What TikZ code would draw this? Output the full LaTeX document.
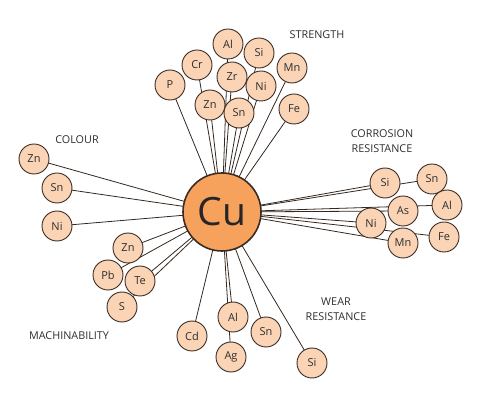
\documentclass[tikz,border=0pt]{standalone}
\usepackage{fontspec}
\setmainfont{Open Sans}
\usetikzlibrary{backgrounds}
\definecolor{cufill}{HTML}{F7A25C}
\definecolor{elfill}{HTML}{FAD4B4}
\definecolor{edge}{HTML}{3A2C24}
\definecolor{txt}{HTML}{2E2E2E}
\tikzset{
  el/.style={circle,draw=edge,line width=0.9pt,fill=elfill,minimum size=30pt,inner sep=0pt,font=\fontsize{11}{11}\selectfont,text=txt},
  cu/.style={circle,draw=edge,line width=1.6pt,fill=cufill,minimum size=78pt,inner sep=0pt,font=\fontsize{39}{39}\selectfont,text=black!85},
  grp/.style={font=\fontsize{10.8}{14.5}\selectfont,text=txt,align=center,inner sep=0pt},
  conn/.style={draw=edge!90!black,line width=0.8pt}
}
\begin{document}
\begin{tikzpicture}[x=1pt,y=-1pt]
\useasboundingbox (0,0) rectangle (482,419);
\node[cu] (cu) at (222,212) {Cu};
% strength
\node[el] (sAl) at (228,44) {Al};
\node[el] (sSi) at (259,53) {Si};
\node[el] (sCr) at (197,65) {Cr};
\node[el] (sZr) at (232,77) {Zr};
\node[el] (sMn) at (292,68) {Mn};
\node[el] (sP) at (170,85) {P};
\node[el] (sNi) at (261,86) {Ni};
\node[el] (sZn) at (210,105) {Zn};
\node[el] (sSn) at (239,113) {Sn};
\node[el] (sFe) at (294,109) {Fe};
\node[grp] (lStr) at (317,35) {STRENGTH};
% corrosion
\node[el] (cSi) at (385,183) {Si};
\node[el] (cSn) at (432,179) {Sn};
\node[el] (cAs) at (403,211) {As};
\node[el] (cAl) at (447,205) {Al};
\node[el] (cNi) at (371,223) {Ni};
\node[el] (cFe) at (444,237) {Fe};
\node[el] (cMn) at (403,243) {Mn};
\node[grp] (lCor) at (382,141) {CORROSION\\RESISTANCE};
% colour
\node[el] (oZn) at (34,159) {Zn};
\node[el] (oSn) at (57,188) {Sn};
\node[el] (oNi) at (57,226) {Ni};
\node[grp] (lCol) at (77,140) {COLOUR};
% machinability
\node[el] (mZn) at (128,248) {Zn};
\node[el] (mPb) at (108,275) {Pb};
\node[el] (mTe) at (140,281) {Te};
\node[el] (mS) at (122,307) {S};
\node[grp] (lMac) at (69,336) {MACHINABILITY};
% wear
\node[el] (wCd) at (192,336) {Cd};
\node[el] (wAl) at (233,317) {Al};
\node[el] (wAg) at (231,357) {Ag};
\node[el] (wSn) at (266,332) {Sn};
\node[el] (wSi) at (312,363) {Si};
\node[grp] (lWear) at (336,309) {WEAR\\RESISTANCE};
\begin{scope}[on background layer]
\foreach \n in {sAl,sSi,sCr,sZr,sMn,sP,sNi,sZn,sSn,sFe,cSi,cSn,cAs,cAl,cNi,cFe,cMn,oZn,oSn,oNi,mZn,mPb,mTe,mS,wCd,wAl,wAg,wSn,wSi}
  \draw[conn] (cu.center) -- (\n.center);
\end{scope}
\end{tikzpicture}
\end{document}
